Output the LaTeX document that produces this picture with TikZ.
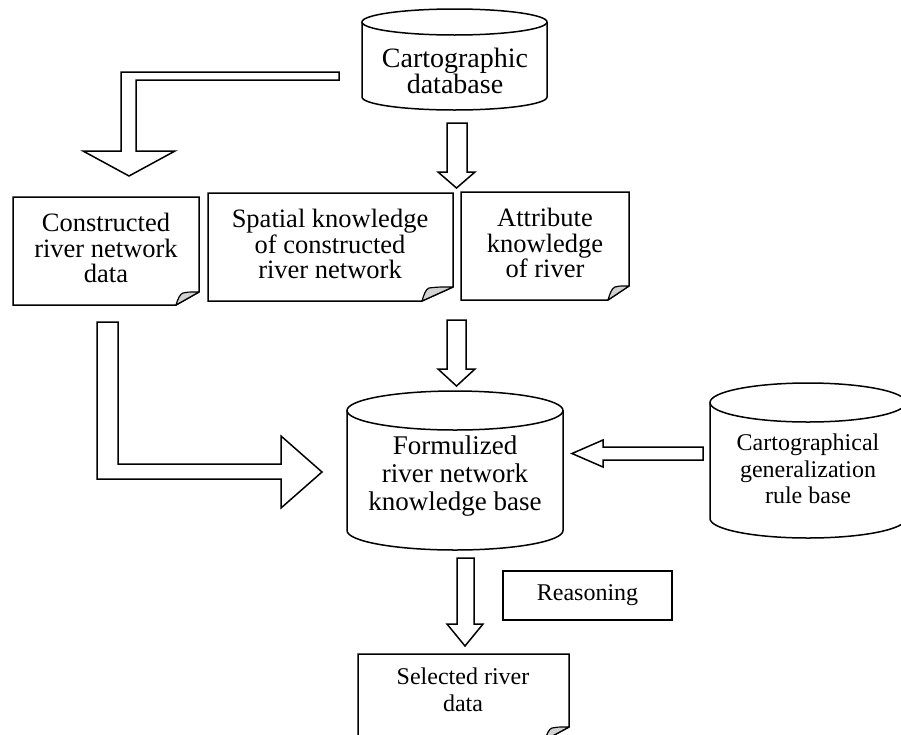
\documentclass[tikz,border=0pt]{standalone}
\usepackage{fontspec}
\setmainfont{Liberation Serif}
\tikzset{
  ln/.style={line width=1.5pt, line join=miter},
  blk/.style={draw, line width=1.5pt, fill=white, line join=miter},
  flap/.style={draw, line width=1.2pt, fill=gray!35, line join=round},
  txtA/.style={align=center, font=\fontsize{28}{25}\selectfont, inner sep=0pt},
  txtB/.style={align=center, font=\fontsize{26.5}{25.5}\selectfont, inner sep=0pt},
  txtC/.style={align=center, font=\fontsize{27}{28}\selectfont, inner sep=0pt},
  txtD/.style={align=center, font=\fontsize{24}{26.5}\selectfont, inner sep=0pt},
}
% folded-corner document box: x1,y1,x2,y2 (y downward), fold dx, fold dy
\newcommand\foldbox[6]{%
  \draw[ln] (#1,-#2) -- (#3,-#2) -- (#3,{-#4+#6}) -- ({#3-#5},-#4) -- (#1,-#4) -- cycle;
  \path[flap] ({#3-#5},-#4) .. controls ({#3-#5+2},{-#4+#6*0.5}) and ({#3-#5+4},{-#4+#6-2}) .. ({#3-#5+7},{-#4+#6-1})
     .. controls ({#3-#5*0.5},{-#4+#6}) .. (#3,{-#4+#6}) -- cycle;
}
% cylinder: x1, x2, ytop, ybottom, ry (y downward)
\newcommand\cyl[5]{%
  \draw[ln] ({(#1+#2)/2},{-#3-#5}) ellipse [x radius={(#2-#1)/2*1pt}, y radius=#5pt];
  \draw[ln] (#1,{-#3-#5}) -- (#1,{-#4+#5}) arc[start angle=180, end angle=360, x radius={(#2-#1)/2*1pt}, y radius=#5pt] -- (#2,{-#3-#5});
}
\begin{document}
\begin{tikzpicture}[x=1pt, y=1pt]
\useasboundingbox (0,0) rectangle (901,-734);
\fill[white] (0,0) rectangle (901,-734);

% cylinders
\cyl{362}{547}{9}{110}{13}
\node[txtA] (cdb) at (455,-71) {Cartographic\\database};

\cyl{347}{563}{391}{550}{19.5}
\node[txtC] (kb) at (455,-476) {Formulized\\river network\\knowledge base};

\cyl{710}{906}{383}{538}{19.5}
\node[txtD] (rules) at (808,-469) {Cartographical\\generalization\\rule base};

% document boxes
\foldbox{13}{197}{199}{305}{23}{13}
\node[txtB] (crn) at (106,-248) {Constructed\\river network\\data};

\foldbox{208}{193}{453}{301}{31}{14}
\node[txtB] (spk) at (330,-244) {Spatial knowledge\\of constructed\\river network};

\foldbox{461}{192}{629}{300}{21}{14}
\node[txtB] (atk) at (545,-243) {Attribute\\knowledge\\of river};

\foldbox{358}{654}{569}{740}{24}{13}
\node[txtD] (sel) at (463,-690) {Selected river\\data};

% reasoning box
\draw[ln] (503,-571) rectangle (672,-620);
\node[txtD] (rea) at (587.5,-595.5) {Reasoning};

% block arrows
\coordinate (a1) at (339,-76);
\path[blk] (339,-72) -- (121,-72) -- (121,-151) -- (83,-151) -- (129,-176) -- (175,-151) -- (136,-151) -- (136,-80) -- (339,-80) -- cycle;

\path[blk] (447,-123) -- (467,-123) -- (467,-172) -- (475,-172) -- (456.5,-188) -- (438,-172) -- (447,-172) -- cycle;

\path[blk] (447,-320) -- (466,-320) -- (466,-369) -- (475,-369) -- (456.5,-386) -- (438,-369) -- (447,-369) -- cycle;

\path[blk] (97,-322) -- (118,-322) -- (118,-464) -- (281,-464) -- (281,-436) -- (322,-472) -- (281,-508) -- (281,-479) -- (97,-479) -- cycle;

\path[blk] (703,-447) -- (603,-447) -- (603,-440) -- (572,-453.5) -- (603,-467) -- (603,-460) -- (703,-460) -- cycle;

\path[blk] (457,-558) -- (474,-558) -- (474,-624) -- (483,-624) -- (465,-646) -- (447,-624) -- (457,-624) -- cycle;
\end{tikzpicture}
\end{document}
